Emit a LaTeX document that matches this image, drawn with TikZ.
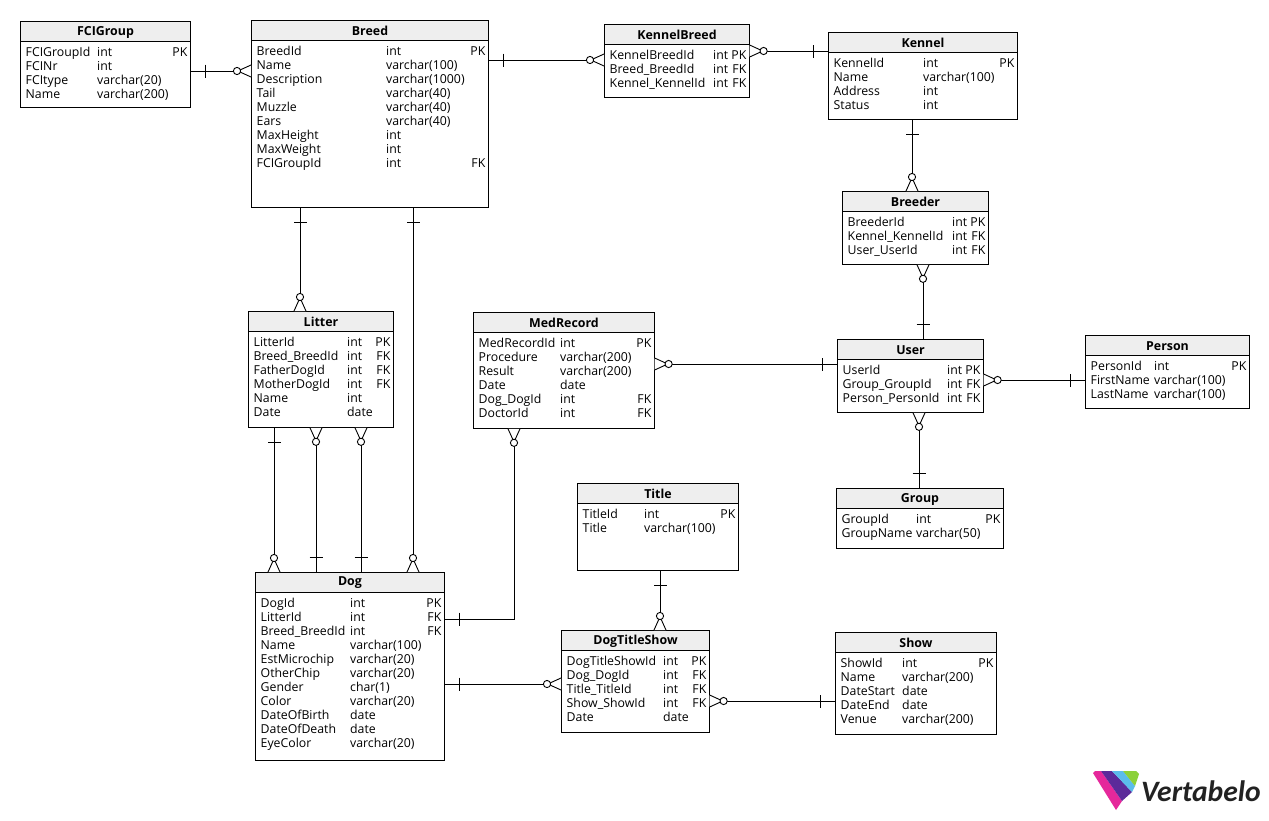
\documentclass[tikz,border=0pt]{standalone}
\usepackage{fontspec}
\setmainfont{Open Sans}
\newfontfamily\logofont{Carlito}
\usetikzlibrary{decorations.markings,calc}
\definecolor{titlebg}{HTML}{EEEEEE}
\definecolor{vpink}{HTML}{E5289B}
\definecolor{vpurple}{HTML}{5B2A9A}
\definecolor{vblue}{HTML}{5BBCEB}
\definecolor{vgreen}{HTML}{8CD13A}
\definecolor{vtext}{HTML}{222222}
\tikzset{
  x=1pt,y=-1pt,
  tblbox/.style={draw=black,line width=1pt,fill=white,inner sep=0pt,outer sep=0pt},
  tbltitle/.style={font=\fontsize{12.4}{14}\selectfont\bfseries,anchor=center,inner sep=0pt},
  tblrow/.style={font=\fontsize{12.3}{14}\selectfont,anchor=base west,inner sep=0pt},
  tblkey/.style={font=\fontsize{12.3}{14}\selectfont,anchor=base east,inner sep=0pt},
  rel/.style={line width=1pt,draw=black,postaction={decorate},decoration={markings,
    mark=at position 15pt with {\draw[line width=.8pt] (0,-6.5)--(0,6.5);},
    mark=at position 1 with {
      \fill[white] (-11,-1) -- (0,-6) -- (0,6) -- (-11,1) -- cycle;
      \draw[line width=.9pt] (-11,-1) -- (0,-6) (-11,1) -- (0,6);
      \draw[line width=.9pt,fill=white] (-14,0) circle[radius=3.6];}}},
}
% \tbl{id}{x1}{y1}{x2}{y2}{head bottom}{title}{type x}{rows}
\newcommand{\tbl}[9]{%
  \node[tblbox,minimum width={(#4-#2-.4)*1pt},minimum height={(#5-#3-.2)*1pt},anchor=north west] (#1) at (#2,#3) {};
  \fill[titlebg] (#2,#3) rectangle (#4-.4,#6);
  \draw[line width=1pt] (#2,#3) rectangle (#4-.4,#6);
  \node[tbltitle] (#1-title) at ({(#2+#4)/2},{(#3+#6)/2+1}) {#7};
  \foreach \na/\ty/\ke [count=\ri] in {#9}{%
    \pgfmathsetmacro\yy{#6+15+(\ri-1)*14}
    \node[tblrow] (#1-n\ri) at (#2+5.5,\yy) {\na};
    \node[tblrow] (#1-t\ri) at (#8,\yy) {\ty};
    \ifx\ke\empty\else\node[tblkey] (#1-k\ri) at (#4-3.5,\yy) {\ke};\fi
  }%
}
\begin{document}
\begin{tikzpicture}
\useasboundingbox (0,0) rectangle (1269,820);
\fill[white] (0,0) rectangle (1269,820);
% tables
\tbl{fci}{20}{21}{191}{108}{41}{FCIGroup}{97}{FCIGroupId/int/PK,FCINr/int/,FCItype/varchar(20)/,Name/varchar(200)/}
\tbl{breed}{251}{20}{489}{208}{40}{Breed}{386}{BreedId/int/PK,Name/varchar(100)/,Description/varchar(1000)/,Tail/varchar(40)/,Muzzle/varchar(40)/,Ears/varchar(40)/,MaxHeight/int/,MaxWeight/int/,FCIGroupId/int/FK}
\tbl{kb}{604}{24}{750}{98}{44}{KennelBreed}{713}{KennelBreedId/int/PK,Breed\_BreedId/int/FK,Kennel\_KennelId/int/FK}
\tbl{kennel}{828}{32}{1018}{120}{52}{Kennel}{923}{KennelId/int/PK,Name/varchar(100)/,Address/int/,Status/int/}
\tbl{breeder}{842}{191}{989}{265}{211}{Breeder}{952}{BreederId/int/PK,Kennel\_KennelId/int/FK,User\_UserId/int/FK}
\tbl{litter}{248}{311}{394}{428}{331}{Litter}{347}{LitterId/int/PK,Breed\_BreedId/int/FK,FatherDogId/int/FK,MotherDogId/int/FK,Name/int/,Date/date/}
\tbl{med}{473}{312}{655}{429}{332}{MedRecord}{560}{MedRecordId/int/PK,Procedure/varchar(200)/,Result/varchar(200)/,Date/date/,Dog\_DogId/int/FK,DoctorId/int/FK}
\tbl{user}{837}{339}{984}{413}{359}{User}{947}{UserId/int/PK,Group\_GroupId/int/FK,Person\_PersonId/int/FK}
\tbl{person}{1085}{335}{1250}{409}{355}{Person}{1154}{PersonId/int/PK,FirstName/varchar(100)/,LastName/varchar(100)/}
\tbl{group}{836}{488}{1004}{549}{508}{Group}{916}{GroupId/int/PK,GroupName/varchar(50)/}
\tbl{title}{577}{483}{739}{571}{503}{Title}{644}{TitleId/int/PK,Title/varchar(100)/}
\tbl{dog}{255}{572}{445}{761}{592}{Dog}{350}{DogId/int/PK,LitterId/int/FK,Breed\_BreedId/int/FK,Name/varchar(100)/,EstMicrochip/varchar(20)/,OtherChip/varchar(20)/,Gender/char(1)/,Color/varchar(20)/,DateOfBirth/date/,DateOfDeath/date/,EyeColor/varchar(20)/}
\tbl{dts}{561}{630}{710}{733}{650}{DogTitleShow}{663}{DogTitleShowId/int/PK,Dog\_DogId/int/FK,Title\_TitleId/int/FK,Show\_ShowId/int/FK,Date/date/}
\tbl{show}{835}{632}{997}{735}{652}{Show}{902}{ShowId/int/PK,Name/varchar(200)/,DateStart/date/,DateEnd/date/,Venue/varchar(200)/}
% connectors (one end first, many end last)
\draw[rel] (fci.east |- 0,71) -- (breed.west |- 0,71);
\draw[rel] (breed.east |- 0,60) -- (kb.west |- 0,60);
\draw[rel] (kennel.west |- 0,51) -- (kb.east |- 0,51);
\draw[rel] (kennel.south -| 912,0) -- (breeder.north -| 912,0);
\draw[rel] (user.north -| 923,0) -- (breeder.south -| 923,0);
\draw[rel] (user.west |- 0,364) -- (med.east |- 0,364);
\draw[rel] (person.west |- 0,380) -- (user.east |- 0,380);
\draw[rel] (group.north -| 919,0) -- (user.south -| 919,0);
\draw[rel] (breed.south -| 300,0) -- (litter.north -| 300,0);
\draw[rel] (breed.south -| 413,0) -- (dog.north -| 413,0);
\draw[rel] (litter.south -| 274,0) -- (dog.north -| 274,0);
\draw[rel] (dog.north -| 316,0) -- (litter.south -| 316,0);
\draw[rel] (dog.north -| 361,0) -- (litter.south -| 361,0);
\draw[rel] (dog.east |- 0,619) -| (med.south -| 514,0);
\draw[rel] (dog.east |- 0,684) -- (dts.west |- 0,684);
\draw[rel] (title.south -| 660,0) -- (dts.north -| 660,0);
\draw[rel] (show.west |- 0,701) -- (dts.east |- 0,701);
% logo
\fill[vpink] (1093,773) -- (1095,771) -- (1101,771) -- (1122,801) -- (1116,810) -- cycle;
\fill[vpurple] (1101,771) -- (1112,771) -- (1132,792) -- (1122,801) -- cycle;
\fill[vblue] (1112,771) -- (1123,771) -- (1135,786) -- (1132,792) -- cycle;
\fill[vgreen] (1123,771) -- (1136,771) -- (1139,774) -- (1135,786) -- cycle;
\node[font=\logofont\fontsize{29.6}{32}\selectfont\itshape\bfseries,text=vtext,inner sep=0pt,anchor=base west] (logo) at (1141,801) {Vertabelo};
\end{tikzpicture}
\end{document}
